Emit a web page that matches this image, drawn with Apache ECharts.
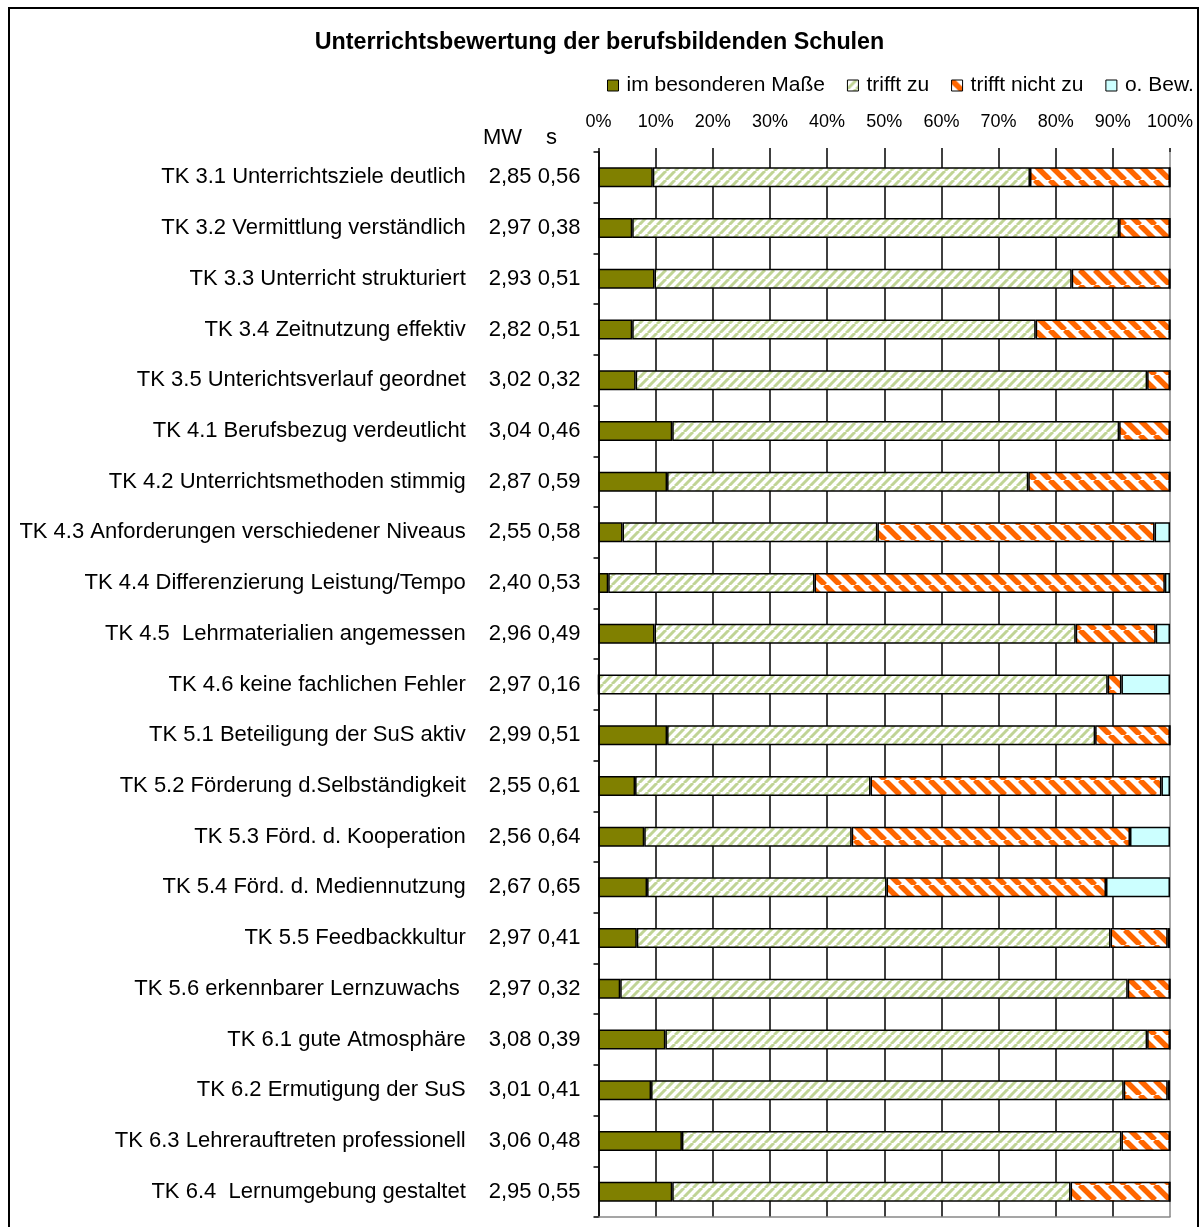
<!DOCTYPE html>
<html>
<head>
<meta charset="utf-8">
<title>Unterrichtsbewertung</title>
<script src="https://cdn.jsdelivr.net/npm/echarts@6/dist/echarts.min.js"></script>
<style>
    html, body { margin: 0; padding: 0; background: #fff; }
    #chart { width: 1199px; height: 1227px; }
</style>
</head>
<body>
<div id="chart"></div>
<script>
const categories = [
    'TK 3.1 Unterrichtsziele deutlich',
    'TK 3.2 Vermittlung verständlich',
    'TK 3.3 Unterricht strukturiert',
    'TK 3.4 Zeitnutzung effektiv',
    'TK 3.5 Unterichtsverlauf geordnet',
    'TK 4.1 Berufsbezug verdeutlicht',
    'TK 4.2 Unterrichtsmethoden stimmig',
    'TK 4.3 Anforderungen verschiedener Niveaus',
    'TK 4.4 Differenzierung Leistung/Tempo',
    'TK 4.5  Lehrmaterialien angemessen',
    'TK 4.6 keine fachlichen Fehler',
    'TK 5.1 Beteiligung der SuS aktiv',
    'TK 5.2 Förderung d.Selbständigkeit',
    'TK 5.3 Förd. d. Kooperation',
    'TK 5.4 Förd. d. Mediennutzung',
    'TK 5.5 Feedbackkultur',
    'TK 5.6 erkennbarer Lernzuwachs ',
    'TK 6.1 gute Atmosphäre',
    'TK 6.2 Ermutigung der SuS',
    'TK 6.3 Lehrerauftreten professionell',
    'TK 6.4  Lernumgebung gestaltet'
]
const mw = ['2,85', '2,97', '2,93', '2,82', '3,02', '3,04', '2,87', '2,55', '2,40', '2,96', '2,97',
    '2,99', '2,55', '2,56', '2,67', '2,97', '2,97', '3,08', '3,01', '3,06', '2,95']
const sd = ['0,56', '0,38', '0,51', '0,51', '0,32', '0,46', '0,59', '0,58', '0,53', '0,49', '0,16',
    '0,51', '0,61', '0,64', '0,65', '0,41', '0,32', '0,39', '0,41', '0,48', '0,55']

const besonders = [9.5, 5.9, 9.8, 5.9, 6.5, 12.9, 12.0, 4.2, 1.7, 9.8, 0, 12.0, 6.4, 8.0, 8.5, 6.7, 3.8, 11.7, 9.2, 14.6, 12.9]
const trifftZu = [66.0, 85.2, 73.0, 70.6, 89.5, 78.2, 63.2, 44.6, 36.1, 73.7, 89.1, 74.9, 41.2, 36.3, 41.9, 82.9, 88.8, 84.3, 82.7, 76.9, 69.7]
const nichtZu = [24.5, 8.9, 17.2, 23.5, 4.0, 8.9, 24.8, 48.5, 61.3, 14.0, 2.4, 13.1, 50.9, 48.7, 38.4, 10.0, 7.4, 4.0, 7.7, 8.5, 17.4]
const ohneBew = [0, 0, 0, 0, 0, 0, 0, 2.7, 0.9, 2.5, 8.5, 0, 1.5, 7.0, 11.2, 0.4, 0, 0, 0.4, 0, 0]

const xTicks = [0, 10, 20, 30, 40, 50, 60, 70, 80, 90, 100]

const FONT = 'Liberation Sans, Arial, sans-serif'

// hatched fills like the excel patterns
function stripes(size, width, color, up) {
    const c = document.createElement('canvas')
    c.width = size
    c.height = size
    const ctx = c.getContext('2d')
    ctx.fillStyle = '#fff'
    ctx.fillRect(0, 0, size, size)
    ctx.strokeStyle = color
    ctx.lineWidth = width
    for (let o = -size; o <= size; o += size) {
        ctx.beginPath()
        if (up) {
            ctx.moveTo(o, size)
            ctx.lineTo(o + size, 0)
        } else {
            ctx.moveTo(o, 0)
            ctx.lineTo(o + size, size)
        }
        ctx.stroke()
    }
    return { image: c, repeat: 'repeat' }
}

const greenHatch = stripes(9, 3, '#c0d495', true)
const orangeHatch = stripes(15, 5.5, '#ff6600', false)

function barSeries(name, data, color) {
    return {
        name: name,
        type: 'bar',
        stack: 'total',
        barWidth: 20,
        data: data,
        itemStyle: {
            color: color,
            borderColor: '#000',
            borderWidth: 1.5
        }
    }
}

const myChart = echarts.init(document.getElementById('chart'))
const option = {
    animation: false,
    backgroundColor: '#fff',
    textStyle: { fontFamily: FONT },
    title: {
        text: 'Unterrichtsbewertung der berufsbildenden Schulen',
        left: 'center',
        top: 31,
        padding: 0,
        textStyle: { fontFamily: FONT, fontSize: 23.3, fontWeight: 'bold', color: '#000' }
    },
    legend: {
        left: 607,
        top: 75,
        padding: 0,
        itemWidth: 11,
        itemHeight: 11,
        itemGap: 22,
        icon: 'rect',
        itemStyle: { borderColor: '#000', borderWidth: 1 },
        textStyle: { fontFamily: FONT, fontSize: 21, color: '#000', padding: [0, 0, 0, 3] }
    },
    graphic: [
        {
            type: 'rect',
            shape: { x: 9, y: 8, width: 1189, height: 1240 },
            style: { fill: 'none', stroke: '#000', lineWidth: 2 },
            silent: true
        },
        {
            type: 'text',
            left: 483,
            top: 127,
            style: { text: 'MW', fontFamily: FONT, fontSize: 22, fill: '#000' }
        },
        {
            type: 'text',
            left: 546,
            top: 127,
            style: { text: 's', fontFamily: FONT, fontSize: 22, fill: '#000' }
        }
    ],
    grid: {
        left: 598.5,
        right: 29,
        top: 152,
        bottom: 10,
        containLabel: false,
        outerBoundsMode: 'none'
    },
    xAxis: [
        {
            type: 'value',
            position: 'top',
            min: 0,
            max: 100,
            interval: 10,
            axisLine: { show: false },
            axisTick: { show: true, length: 4, lineStyle: { color: '#000', width: 1.5 } },
            axisLabel: {
                margin: 21,
                fontFamily: FONT,
                fontSize: 18,
                color: '#000',
                formatter: v => xTicks.indexOf(v) >= 0 ? v + '%' : ''
            },
            splitLine: {
                show: true,
                lineStyle: {
                    color: ['#000', '#000', '#000', '#000', '#000', '#000', '#000', '#000', '#000', '#000', '#888'],
                    width: 1.5
                }
            }
        },
        {
            type: 'value',
            position: 'bottom',
            min: 0,
            max: 100,
            interval: 10,
            axisLine: { show: true, lineStyle: { color: '#888', width: 1.5 } },
            axisTick: { show: false },
            axisLabel: { show: false },
            splitLine: { show: false }
        }
    ],
    yAxis: {
        type: 'category',
        inverse: true,
        data: categories,
        axisLine: { show: true, lineStyle: { color: '#000', width: 1.5 } },
        axisTick: { show: true, length: 5, lineStyle: { color: '#000', width: 1.5 } },
        axisLabel: {
            margin: 18,
            color: '#000',
            formatter: (value, index) => '{n|' + value + '}{v|' + mw[index] + ' ' + sd[index] + '}',
            rich: {
                n: { fontFamily: FONT, fontSize: 22, color: '#000', padding: [0, 23, 0, 0] },
                v: { fontFamily: FONT, fontSize: 22, color: '#000' }
            }
        },
        splitLine: { show: false }
    },
    series: [
        barSeries('im besonderen Maße', besonders, '#808000'),
        barSeries('trifft zu', trifftZu, greenHatch),
        barSeries('trifft nicht zu', nichtZu, orangeHatch),
        barSeries('o. Bew.', ohneBew, '#ccffff')
    ]
}
option && myChart.setOption(option)
</script>
</body>
</html>
